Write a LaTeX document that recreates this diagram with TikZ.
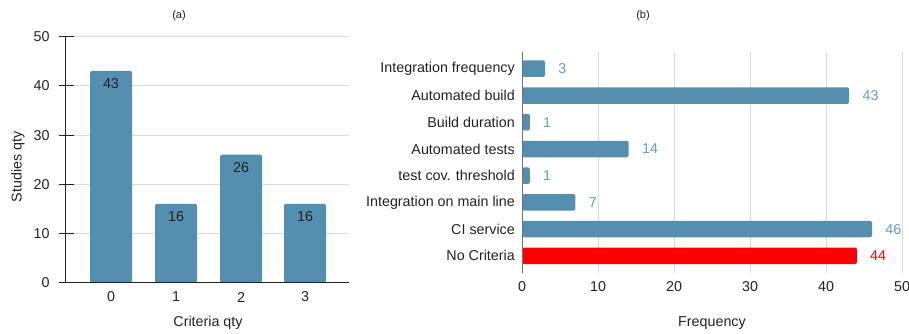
\documentclass[tikz,border=0pt]{standalone}
\usepackage{fontspec}
\setmainfont{Liberation Sans}
\usepackage{tikz}
\definecolor{barblue}{RGB}{84, 143, 176}
\definecolor{numblue}{RGB}{98, 158, 196}
\definecolor{gridgray}{RGB}{220, 220, 220}
\definecolor{axisgray}{RGB}{115, 115, 115}
\definecolor{txt}{RGB}{34, 34, 34}
\usetikzlibrary{positioning}

\begin{document}
\begin{tikzpicture}[x=1pt, y=-1pt, font=\fontsize{14.3}{17}\selectfont, text=txt,
  bar/.style={rectangle, fill=barblue, rounded corners=1.5pt, inner sep=0pt},
  grid/.style={line width=1pt, color=gridgray},
  num/.style={text=numblue, inner sep=0pt}]
\useasboundingbox (0,0) rectangle (909,333);
% (a) criteria per study
\node (ta) [font=\fontsize{11}{13}\selectfont] at (179, 15.7) {(a)};
\draw [grid] (74, 233.5) -- (349, 233.5) (74, 184.3) -- (349, 184.3) (74, 135.1) -- (349, 135.1)
  (74, 85.9) -- (349, 85.9) (74, 36.7) -- (349, 36.7);
\node (a0) [bar, anchor=south, minimum width=42pt, minimum height=211.6pt] at (111, 282.7) {};
\node (a1) [bar, anchor=south, minimum width=42pt, minimum height=78.7pt] at (176, 282.7) {};
\node (a2) [bar, anchor=south, minimum width=42pt, minimum height=127.9pt] at (241, 282.7) {};
\node (a3) [bar, anchor=south, minimum width=42pt, minimum height=78.7pt] at (305, 282.7) {};
\node (n0) at ([yshift=-13pt]a0.north) {43};
\node (n1) at ([yshift=-13pt]a1.north) {16};
\node (n2) at ([yshift=-13pt]a2.north) {26};
\node (n3) at ([yshift=-13pt]a3.north) {16};
\draw [line width=1pt, color=txt] (65, 36.7) -- (65, 282.7);
\draw [line width=1pt, color=txt] (59, 282.7) -- (349, 282.7);
\draw [line width=1pt, color=txt] (59, 233.5) -- (74, 233.5) (59, 184.3) -- (74, 184.3) (59, 135.1) -- (74, 135.1)
  (59, 85.9) -- (74, 85.9) (59, 36.7) -- (74, 36.7);
\node (y0) [anchor=east] at (53, 282.7) {0};
\node (y1) [anchor=east] at (53, 233.5) {10};
\node (y2) [anchor=east] at (53, 184.3) {20};
\node (y3) [anchor=east] at (53, 135.1) {30};
\node (y4) [anchor=east] at (53, 85.9) {40};
\node (y5) [anchor=east] at (53, 36.7) {50};
\node (x0) at (111, 297) {0};
\node (x1) at (176, 297) {1};
\node (x2) at (241, 297) {2};
\node (x3) at (305, 297) {3};
\node (xa) at (208, 323) {Criteria qty};
\node (ya) [rotate=90] at (18, 167) {Studies qty};
% (b) frequency of each criterion
\node (tb) [font=\fontsize{11}{13}\selectfont] at (643, 15.7) {(b)};
\draw [grid] (598, 52) -- (598, 273) (674, 52) -- (674, 273) (750, 52) -- (750, 273)
  (826, 52) -- (826, 273) (902, 52) -- (902, 273);
\node (b1) [bar, anchor=west, minimum width=22.8pt, minimum height=16.5pt] at (522, 68.7) {};
\node (b2) [bar, anchor=west, minimum width=327pt, minimum height=16.5pt] at (522, 95.5) {};
\node (b3) [bar, anchor=west, minimum width=7.6pt, minimum height=16.5pt] at (522, 122.2) {};
\node (b4) [bar, anchor=west, minimum width=106.5pt, minimum height=16.5pt] at (522, 149) {};
\node (b5) [bar, anchor=west, minimum width=7.6pt, minimum height=16.5pt] at (522, 175.7) {};
\node (b6) [bar, anchor=west, minimum width=53.2pt, minimum height=16.5pt] at (522, 202.4) {};
\node (b7) [bar, anchor=west, minimum width=349.8pt, minimum height=16.5pt] at (522, 229.1) {};
\node (b8) [bar, anchor=west, fill=red, minimum width=334.6pt, minimum height=16.5pt] at (522, 255.8) {};
\draw [line width=1pt, color=axisgray] (522, 52) -- (522, 273);
\node (l1) [left=7pt of b1, inner sep=0pt] {Integration frequency};
\node (l2) [left=7pt of b2, inner sep=0pt] {Automated build};
\node (l3) [left=7pt of b3, inner sep=0pt] {Build duration};
\node (l4) [left=7pt of b4, inner sep=0pt] {Automated tests};
\node (l5) [left=7pt of b5, inner sep=0pt] {test cov. threshold};
\node (l6) [left=7pt of b6, inner sep=0pt] {Integration on main line};
\node (l7) [left=7pt of b7, inner sep=0pt] {CI service};
\node (l8) [left=7pt of b8, inner sep=0pt] {No Criteria};
\node (v1) [num, right=13pt of b1] {3};
\node (v2) [num, right=13pt of b2] {43};
\node (v3) [num, right=13pt of b3] {1};
\node (v4) [num, right=13pt of b4] {14};
\node (v5) [num, right=13pt of b5] {1};
\node (v6) [num, right=13pt of b6] {7};
\node (v7) [num, right=13pt of b7] {46};
\node (v8) [num, text=red, right=13pt of b8] {44};
\node (f0) at (522, 287) {0};
\node (f1) at (598, 287) {10};
\node (f2) at (674, 287) {20};
\node (f3) at (750, 287) {30};
\node (f4) at (826, 287) {40};
\node (f5) at (902, 287) {50};
\node (fa) at (712, 323) {Frequency};
\end{tikzpicture}
\end{document}
